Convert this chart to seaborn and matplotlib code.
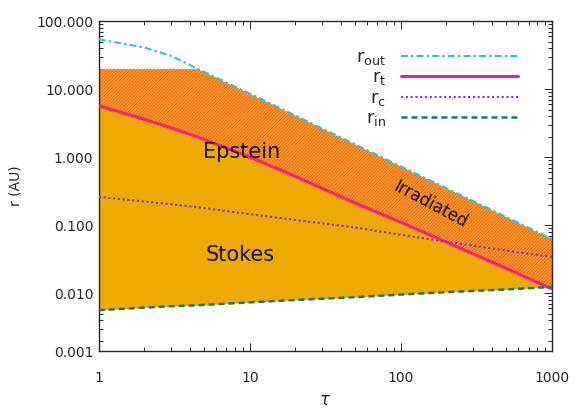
import numpy as np
import pandas as pd
import matplotlib
matplotlib.use("Agg")
import matplotlib.pyplot as plt
import matplotlib.ticker as mticker
import seaborn as sns

tau = [1, 2, 3, 4.5, 10, 20, 50, 100, 200, 500, 1000]
r_out = [54, 41, 31, 20, 8.6, 4.1, 1.53, 0.73, 0.35, 0.131, 0.0625]
r_t = [5.7, 3.6, 2.7, 1.98, 1.0, 0.52, 0.21, 0.11, 0.056, 0.023, 0.0115]
r_c = [0.26, 0.222, 0.203, 0.183, 0.145, 0.119, 0.092, 0.072, 0.057, 0.042, 0.034]
r_in = [0.0056, 0.0061, 0.0064, 0.0066, 0.0073, 0.0079, 0.0087, 0.0095, 0.0103, 0.0113, 0.0123]
r_cap = 20.0

ytick_vals = [0.0014, 0.01, 0.1, 1, 10, 100]
ytick_labels = ["0.001", "0.010", "0.100", "1.000", "10.000", "100.000"]
xtick_vals = [1, 10, 100, 1000]
xtick_labels = ["1", "10", "100", "1000"]

orange = "#EEAA00"
pink = "#FF1A8C"
cyan = "#22C4F2"
purple = "#8030F0"
teal = "#0E7A78"

sns.set_theme(style="ticks")
plt.rcParams["font.family"] = ["DejaVu Sans"]
plt.rcParams["hatch.linewidth"] = 0.4
plt.rcParams["axes.linewidth"] = 1.0

df = pd.DataFrame({"tau": tau, "r_out": r_out, "r_t": r_t, "r_c": r_c, "r_in": r_in})
top = np.minimum(df["r_out"], r_cap)

fig = plt.figure(figsize=(5.81, 4.15), dpi=100)
ax = fig.add_axes([0.170, 0.154, 0.780, 0.795])

ax.fill_between(df["tau"], df["r_in"], top, facecolor=orange, linewidth=0, zorder=1)
ax.fill_between(df["tau"], df["r_t"], top, facecolor="none", edgecolor=pink,
                hatch="//////////", linewidth=0, zorder=2)

sns.lineplot(x="tau", y="r_out", data=df, ax=ax, color=cyan, lw=1.5,
             linestyle=(0, (3.3, 1.5, 1.2, 1.5)), label=r"$\mathregular{r_{out}}$", zorder=4)
sns.lineplot(x="tau", y="r_t", data=df, ax=ax, color=pink, lw=2.2,
             label=r"$\mathregular{r_{t}}$", zorder=4)
sns.lineplot(x="tau", y="r_c", data=df, ax=ax, color=purple, lw=1.5,
             linestyle=(0, (1, 1.3)), label=r"$\mathregular{r_{c}}$", zorder=4)
sns.lineplot(x="tau", y="r_in", data=df, ax=ax, color=teal, lw=1.8,
             linestyle=(0, (2.4, 1.6)), label=r"$\mathregular{r_{in}}$", zorder=4)

ax.set_xscale("log")
ax.set_yscale("log")
ax.set_xlim(1, 1000)
ax.set_ylim(ytick_vals[0], 100)

ax.xaxis.set_major_locator(mticker.FixedLocator(xtick_vals))
ax.xaxis.set_major_formatter(mticker.FixedFormatter(xtick_labels))
ax.xaxis.set_minor_locator(mticker.LogLocator(base=10, subs=range(2, 10)))
ax.xaxis.set_minor_formatter(mticker.NullFormatter())
ax.yaxis.set_major_locator(mticker.FixedLocator(ytick_vals))
ax.yaxis.set_major_formatter(mticker.FixedFormatter(ytick_labels))
ax.yaxis.set_minor_locator(mticker.LogLocator(base=10, subs=range(2, 10), numticks=20))
ax.yaxis.set_minor_formatter(mticker.NullFormatter())

ax.tick_params(which="both", direction="in", top=True, right=True, color="#222222",
               labelsize=10, width=0.7)
ax.tick_params(which="major", length=6)
ax.tick_params(which="minor", length=3.2)
ax.tick_params(axis="x", which="major", pad=14)
ax.tick_params(axis="y", which="major", pad=4)

ax.set_xlabel(r"$\tau$", fontsize=12, labelpad=5)
ax.set_ylabel("r (AU)", fontsize=10, labelpad=10)

ax.text(8.85, 1.18, "Epstein", fontsize=15, ha="center", va="center", color="#111111", zorder=5)
ax.text(8.6, 0.036, "Stokes", fontsize=15, ha="center", va="center", color="#111111", zorder=5)
ax.text(156, 0.197, "Irradiated", fontsize=12, ha="center", va="center", rotation=-28,
        color="#111111", zorder=5)

ax.legend(loc="upper right", bbox_to_anchor=(0.953, 0.957), frameon=False, markerfirst=False,
          fontsize=13, handlelength=6.5, handletextpad=0.8, labelspacing=0.08, borderpad=0.2)

fig.savefig("out.png", dpi=100)
